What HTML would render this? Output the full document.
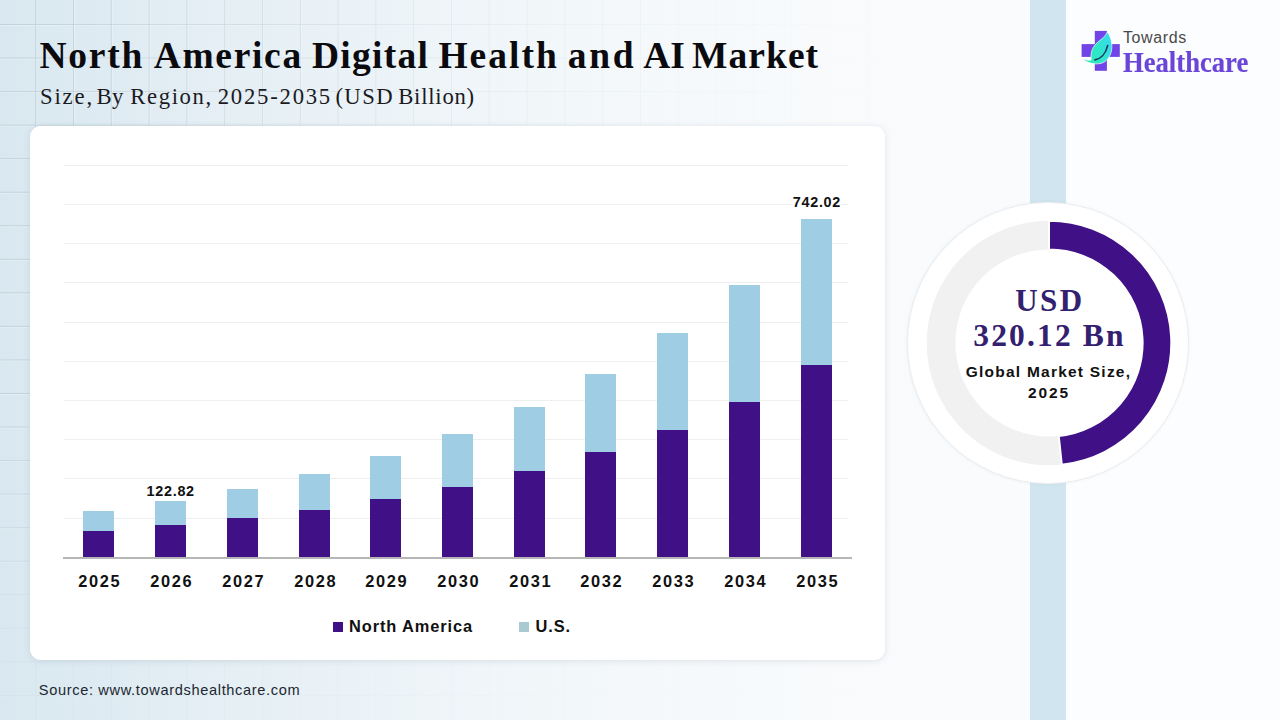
<!DOCTYPE html>
<html><head><meta charset="utf-8">
<style>
*{margin:0;padding:0;box-sizing:border-box}
html,body{width:1280px;height:720px;overflow:hidden}
body{position:relative;background:#f6fafc;font-family:"Liberation Sans",sans-serif}
.bg{position:absolute;left:0;top:0;width:1030px;height:720px;
 background:linear-gradient(90deg,#d9e8f0 0%,#e4eef4 20%,#edf4f8 40%,#f4f8fa 60%,#f8fafc 80%,#f9fbfc 100%)}
.grid{position:absolute;left:0;top:0;width:1030px;height:720px;
 background-image:linear-gradient(to right, rgba(140,165,178,.38) 1px, rgba(255,255,255,.35) 1px, rgba(255,255,255,.35) 2px, transparent 2px),linear-gradient(to bottom, rgba(140,165,178,.38) 1px, rgba(255,255,255,.35) 1px, rgba(255,255,255,.35) 2px, transparent 2px);
 background-size:37.8px 33.55px;background-position:73px 24px;
 -webkit-mask-image:linear-gradient(90deg,rgba(0,0,0,.85) 0%,rgba(0,0,0,.55) 25%,rgba(0,0,0,.22) 50%,rgba(0,0,0,.06) 75%,rgba(0,0,0,0) 90%),linear-gradient(180deg,#000 0%,#000 55%,rgba(0,0,0,.22) 92%,rgba(0,0,0,.22) 100%);-webkit-mask-composite:source-in;mask-composite:intersect}
.band{position:absolute;left:1030px;top:0;width:36px;height:720px;background:#d0e5ef}
.right{position:absolute;left:1066px;top:0;width:214px;height:720px;background:#fcfdfe}
.title{position:absolute;left:39.5px;top:34px;font-family:"Liberation Serif",serif;font-weight:bold;font-size:37.5px;letter-spacing:1.3px;color:#0b0b0f;white-space:nowrap;line-height:44px}
.sub{position:absolute;left:38.5px;top:83px;font-family:"Liberation Serif",serif;font-size:22.7px;letter-spacing:1.1px;color:#1a1a1f;white-space:nowrap;line-height:28px}
.card{position:absolute;left:30px;top:126px;width:855px;height:533.5px;background:#fff;border-radius:11px;box-shadow:0 1px 6px rgba(120,140,160,.2)}
.gl{position:absolute;left:64px;width:784px;height:1px;background:#efefef}
.axis{position:absolute;left:63px;top:557px;width:789px;height:2px;background:#b6b6b6}
.bl{position:absolute;width:31px;background:#9fcee4}
.bd{position:absolute;width:31px;background:#3f1086}
.yr{position:absolute;top:570.5px;width:61px;text-align:center;font-weight:bold;font-size:16.4px;letter-spacing:1.6px;color:#111;line-height:20px}
.val{position:absolute;font-weight:bold;font-size:14.4px;letter-spacing:0.7px;color:#111;line-height:18px;background:#fff;white-space:nowrap}
.leg{position:absolute;top:616px;font-weight:bold;font-size:16.4px;letter-spacing:0.9px;color:#111;line-height:20px;white-space:nowrap}
.sq{position:absolute;top:622px;width:10px;height:10px}
.src{position:absolute;left:38.8px;top:680.5px;font-size:14.6px;letter-spacing:0.65px;color:#1c2730;white-space:nowrap;line-height:18px}
.dwrap{position:absolute;left:907px;top:201.8px;width:282px;height:282px;border-radius:50%;background:#fff;border:1px solid #ebeef0;box-shadow:0 0 3px rgba(150,170,180,.15)}
.usd{position:absolute;left:950px;width:200px;text-align:center;font-family:"Liberation Serif",serif;font-weight:bold;color:#33206f;white-space:nowrap}
.gms{position:absolute;left:950px;width:200px;text-align:center;font-weight:bold;font-size:15.5px;color:#111;line-height:20px;white-space:nowrap}
.tw{position:absolute;left:1123px;top:28px;font-size:16px;letter-spacing:0.6px;color:#4a4a4a;line-height:20px;white-space:nowrap}
.hc{position:absolute;left:1123px;top:46px;font-family:"Liberation Serif",serif;font-weight:bold;font-size:29.6px;letter-spacing:0px;transform:scaleX(0.9);transform-origin:0 0;color:#6a45d8;line-height:32px;white-space:nowrap;-webkit-text-stroke:0.2px #6a45d8}
</style></head><body>
<div class="bg"></div>
<div class="grid"></div>
<div class="band"></div>
<div class="right"></div>
<div class="title" style="left:39.5px;letter-spacing:1.75px">North</div><div class="title" style="left:153.7px;letter-spacing:1.67px">America</div><div class="title" style="left:311.9px;letter-spacing:1.3px">Digital</div><div class="title" style="left:438.4px;letter-spacing:2.04px">Health</div><div class="title" style="left:567.7px;letter-spacing:2.75px">and</div><div class="title" style="left:643.15px;letter-spacing:0px">AI</div><div class="title" style="left:692px;letter-spacing:1.06px">Market</div>
<div class="sub" style="left:39.9px;letter-spacing:1.88px">Size,</div><div class="sub" style="left:96.5px;letter-spacing:0.3px">By</div><div class="sub" style="left:130.25px;letter-spacing:1.62px">Region,</div><div class="sub" style="left:217.75px;letter-spacing:1.77px">2025-2035</div><div class="sub" style="left:335.4px;letter-spacing:1.4px">(USD</div><div class="sub" style="left:398.2px;letter-spacing:0.77px">Billion)</div>
<div class="card"></div>
<div class="gl" style="top:165px"></div><div class="gl" style="top:204px"></div><div class="gl" style="top:243px"></div><div class="gl" style="top:282px"></div><div class="gl" style="top:322px"></div><div class="gl" style="top:361px"></div><div class="gl" style="top:400px"></div><div class="gl" style="top:439px"></div><div class="gl" style="top:478px"></div><div class="gl" style="top:518px"></div>
<div class="axis"></div>
<div class="bl" style="left:83px;top:511px;height:20px"></div><div class="bd" style="left:83px;top:531px;height:26px"></div>
<div class="bl" style="left:155px;top:501px;height:24px"></div><div class="bd" style="left:155px;top:525px;height:32px"></div>
<div class="bl" style="left:227px;top:489px;height:29px"></div><div class="bd" style="left:227px;top:518px;height:39px"></div>
<div class="bl" style="left:299px;top:474px;height:36px"></div><div class="bd" style="left:299px;top:510px;height:47px"></div>
<div class="bl" style="left:370px;top:456px;height:43px"></div><div class="bd" style="left:370px;top:499px;height:58px"></div>
<div class="bl" style="left:442px;top:434px;height:53px"></div><div class="bd" style="left:442px;top:487px;height:70px"></div>
<div class="bl" style="left:514px;top:407px;height:64px"></div><div class="bd" style="left:514px;top:471px;height:86px"></div>
<div class="bl" style="left:585px;top:374px;height:78px"></div><div class="bd" style="left:585px;top:452px;height:105px"></div>
<div class="bl" style="left:657px;top:333px;height:97px"></div><div class="bd" style="left:657px;top:430px;height:127px"></div>
<div class="bl" style="left:729px;top:285px;height:117px"></div><div class="bd" style="left:729px;top:402px;height:155px"></div>
<div class="bl" style="left:801px;top:219px;height:146px"></div><div class="bd" style="left:801px;top:365px;height:192px"></div>

<div class="yr" style="left:69.3px">2025</div>
<div class="yr" style="left:141.3px">2026</div>
<div class="yr" style="left:213.3px">2027</div>
<div class="yr" style="left:285.3px">2028</div>
<div class="yr" style="left:356.3px">2029</div>
<div class="yr" style="left:428.3px">2030</div>
<div class="yr" style="left:500.3px">2031</div>
<div class="yr" style="left:571.3px">2032</div>
<div class="yr" style="left:643.3px">2033</div>
<div class="yr" style="left:715.3px">2034</div>
<div class="yr" style="left:787.3px">2035</div>

<div class="val" style="left:146.6px;top:482px">122.82</div>
<div class="val" style="left:792.8px;top:193px">742.02</div>
<div class="sq" style="left:333px;background:#3f1086"></div>
<div class="leg" style="left:349px">North America</div>
<div class="sq" style="left:519px;background:#a9c9d3"></div>
<div class="leg" style="left:535.6px">U.S.</div>
<div class="src">Source: www.towardshealthcare.com</div>
<div class="dwrap"></div>
<svg width="300" height="300" viewBox="0 0 300 300" style="position:absolute;left:899.2px;top:192.6px">
 <circle cx="150" cy="150" r="107.95" fill="none" stroke="#f2f1f2" stroke-width="28.7"/>
 <path d="M150.00,27.70 A122.3,122.3 0 0 1 162.78,271.63 L159.78,243.09 A93.6,93.6 0 0 0 150.00,56.40 Z" fill="#3f1086" stroke="#fff" stroke-width="2"/>
</svg>
<div class="usd" style="top:284px;font-size:31px;letter-spacing:2.5px;line-height:34px;left:950px">USD</div>
<div class="usd" style="top:319px;font-size:31.5px;letter-spacing:2.16px;line-height:34px;left:949.5px">320.12 Bn</div>
<div class="gms" style="top:361.5px;letter-spacing:1.23px;left:948.5px">Global Market Size,</div>
<div class="gms" style="top:382.5px;letter-spacing:1.9px;left:949px">2025</div>
<svg style="position:absolute;left:1078px;top:27px" width="48" height="48" viewBox="0 0 48 48">
 <defs><linearGradient id="lg" x1="0" y1="0.6" x2="1" y2="0.3"><stop offset="0" stop-color="#2fe8b4"/><stop offset="0.5" stop-color="#2ee8c8"/><stop offset="1" stop-color="#3ad8f0"/></linearGradient></defs>
 <rect x="16.8" y="3.9" width="12.1" height="39.9" fill="#7044e6"/>
 <rect x="3.6" y="17.1" width="38.2" height="12.8" fill="#7044e6"/>
 <path d="M29.3,5 C32.8,9.5 34.6,16 33.6,23 C32.6,30 28,35.6 22,36.6 C16,37.6 9,35.8 3.8,31.8 C7.8,33.4 11.5,33.6 13.3,32.8 C12.3,27 13.8,21.5 17.6,17.2 C21.5,13 27.2,10.5 29.3,5 Z" fill="url(#lg)" stroke="rgba(255,255,255,.75)" stroke-width="0.9"/>
 <path d="M17,32.8 C22.5,31.8 27.8,27 29.6,18.6" fill="none" stroke="#173a62" stroke-width="1.7" stroke-linecap="round"/>
</svg>
<div class="tw">Towards</div>
<div class="hc">Healthcare</div>
</body></html>
